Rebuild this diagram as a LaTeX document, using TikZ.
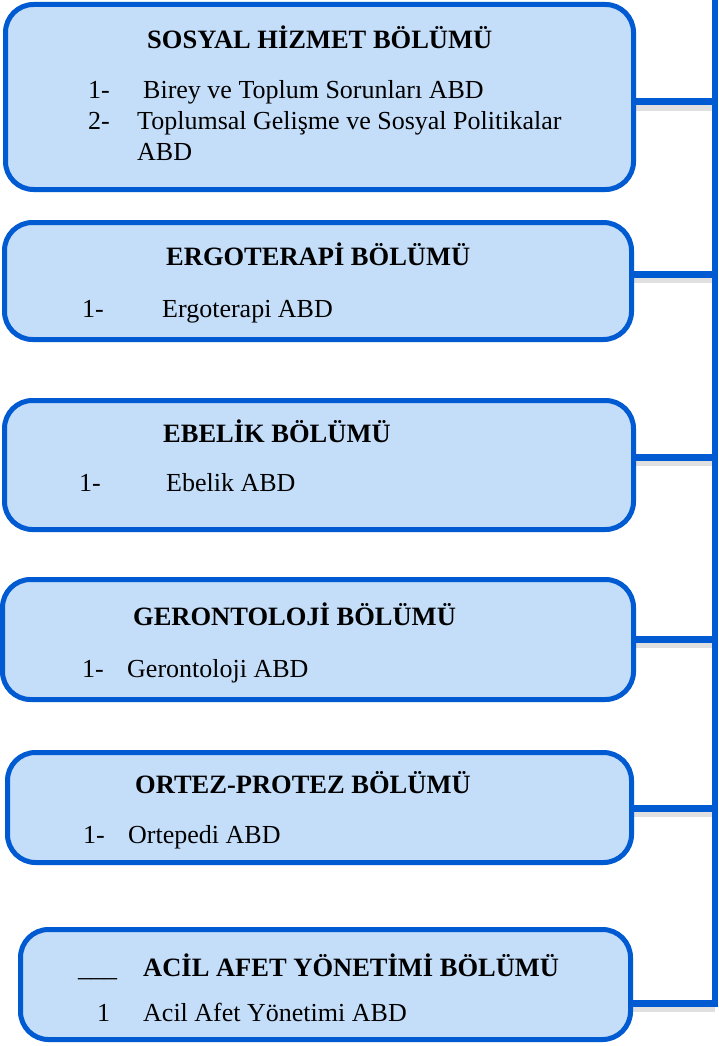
\documentclass[tikz,border=0pt]{standalone}
\usepackage{fontspec}
\setmainfont{Liberation Serif}
\definecolor{boxfill}{RGB}{196,222,250}
\definecolor{boxline}{RGB}{0,90,210}

\begin{document}
\begin{tikzpicture}[x=1pt,y=-1pt,
	unit/.style={draw=boxline,fill=boxfill,line width=5pt,rounded corners=28pt,inner sep=0pt},
	head/.style={anchor=base west,inner sep=0pt,font=\fontsize{26.5}{30}\selectfont\bfseries},
	item/.style={anchor=base west,inner sep=0pt,font=\fontsize{26}{30}\selectfont},
	link/.style={draw=boxline,line width=7pt,
		preaction={draw=black,draw opacity=0.12,line width=6pt,transform canvas={yshift=-6pt}}}]
	
	\useasboundingbox (0,0) rectangle (718,1046);
	
	% department boxes and their joints on the bar
	\foreach \n/\cx/\cy/\w/\h/\jy in {1/319.5/97/628/185/102, 2/318/281/627/117/274,
		3/319/465/629/129/457, 4/318/639.5/631/120/639, 5/319.5/807.5/624/110/808,
		6/325.5/984.5/610/110/1003} {
		\node[unit,minimum width=\w pt,minimum height=\h pt] (b\n) at (\cx,\cy) {};
		\coordinate (j\n) at (715,\jy);
	}
	\foreach \n in {1,...,6} {
		\draw[link] (b\n.east |- j\n) -- (j\n);
	}
	
	% vertical bar
	\coordinate (bartop) at (715,0);
	\coordinate (barend) at (715,1007);
	\draw[boxline,line width=6pt] (bartop) -- (barend);
	
	% texts
	\node[head] (h1) at (147,49) {SOSYAL HİZMET BÖLÜMÜ};
	\node[item] (n1a) at (88,99) {1-};
	\node[item] (i1a) at (143,99) {Birey ve Toplum Sorunları ABD};
	\node[item] (n1b) at (88,129) {2-};
	\node[item] (i1b) at (137,129) {Toplumsal Gelişme ve Sosyal Politikalar};
	\node[item] (i1c) at (137,160) {ABD};
	
	\node[head] (h2) at (166,265) {ERGOTERAPİ BÖLÜMÜ};
	\node[item] (n2) at (82,317) {1-};
	\node[item] (i2) at (162,317) {Ergoterapi ABD};
	
	\node[head] (h3) at (163,442) {EBELİK BÖLÜMÜ};
	\node[item] (n3) at (79,491) {1-};
	\node[item] (i3) at (166,491) {Ebelik ABD};
	
	\node[head] (h4) at (133,625) {GERONTOLOJİ BÖLÜMÜ};
	\node[item] (n4) at (82,677) {1-};
	\node[item] (i4) at (127,677) {Gerontoloji ABD};
	
	\node[head] (h5) at (135,793) {ORTEZ-PROTEZ BÖLÜMÜ};
	\node[item] (n5) at (83,843) {1-};
	\node[item] (i5) at (128,843) {Ortepedi ABD};
	
	\node[head] (h6) at (143,976) {ACİL AFET YÖNETİMİ BÖLÜMÜ};
	\node[item] (u6) at (78,976) {\_\_\_};
	\node[item] (n6) at (97,1021) {1};
	\node[item] (i6) at (143,1021) {Acil Afet Yönetimi ABD};
	
\end{tikzpicture}
\end{document}
